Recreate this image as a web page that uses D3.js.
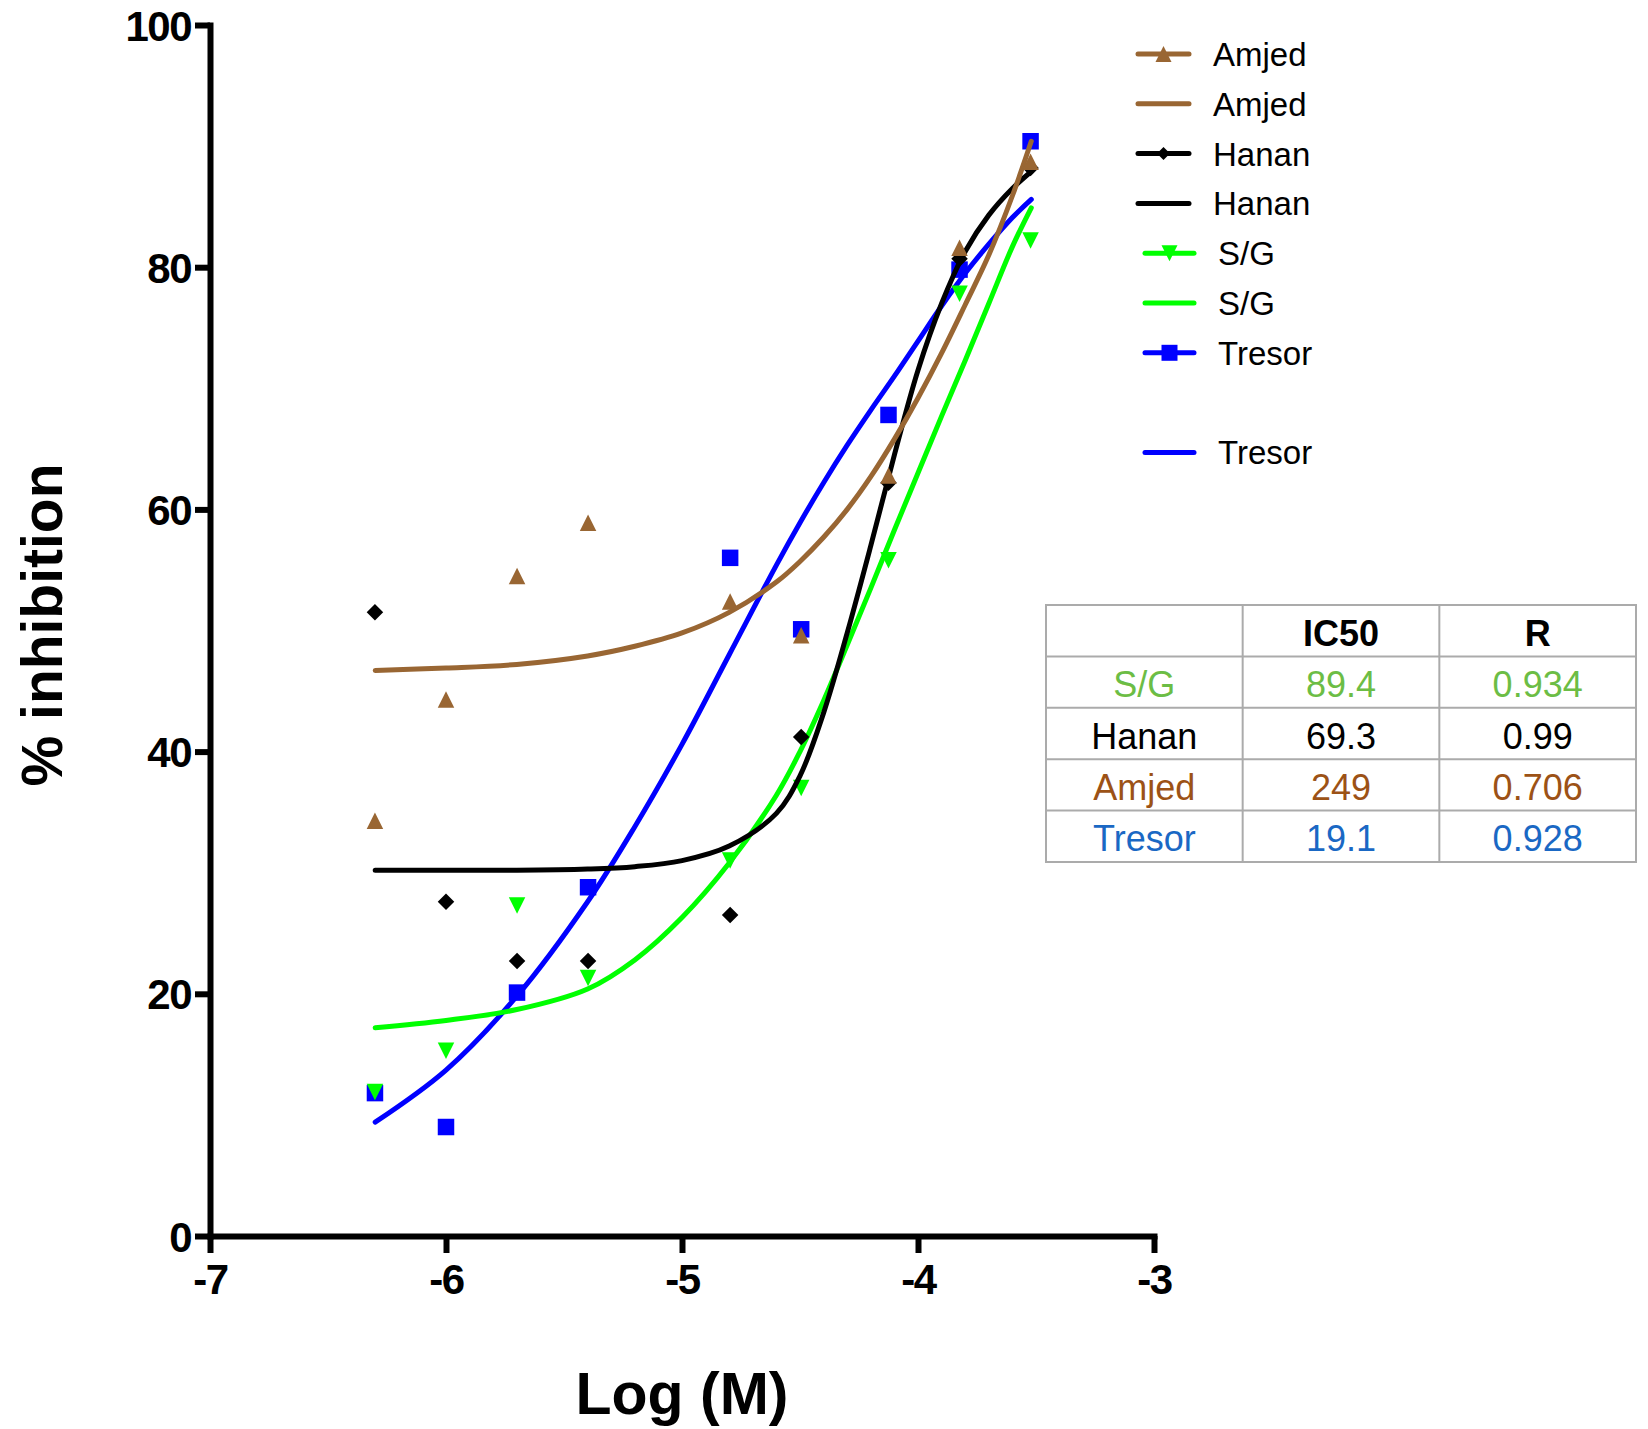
<!DOCTYPE html>
<html><head><meta charset="utf-8">
<script src="https://cdn.jsdelivr.net/npm/d3@7"></script>
<style>
html,body{margin:0;padding:0;background:#fff;}
svg{display:block;}
</style></head>
<body>
<svg id="chart" width="1648" height="1429"></svg>
<script>
// ---------------- data ----------------
const xTicks = [-7, -6, -5, -4, -3];
const yTicks = [0, 20, 40, 60, 80, 100];

const logConc   = [-6.301, -6.000, -5.699, -5.398, -4.796, -4.495, -4.125, -3.824, -3.523];
const amjedPts  = [34.3, 44.3, 54.5, 58.9, 52.4, 49.6, 62.8, 81.6, 88.7];
const hananPts  = [51.5, 27.6, 22.7, 22.7, 26.5, 41.2, 62.2, 80.7, 88.2];
const sgPts     = [11.9, 15.3, 27.3, 21.3, 31.0, 37.0, 55.8, 77.8, 82.2];
const tresorPts = [11.8, 9.0, 20.1, 28.8, 56.0, 50.1, 67.8, 79.8, 90.4];

// fitted curves
const curveX    = [-6.3, -6.0, -5.7, -5.4, -5.2, -5.0, -4.8, -4.6, -4.5, -4.4, -4.3, -4.2, -4.1, -4.0, -3.9, -3.8, -3.7, -3.6, -3.52];
const amjedFit  = [46.7, 46.9, 47.2, 47.9, 48.7, 49.8, 51.5, 54.0, 55.7, 57.7, 60.0, 62.7, 65.8, 69.2, 72.9, 76.9, 81.0, 85.9, 90.4];
const hananFit  = [30.2, 30.2, 30.2, 30.3, 30.5, 31.0, 32.2, 34.9, 38.0, 43.2, 49.8, 57.0, 64.5, 71.5, 77.0, 81.3, 84.3, 86.5, 87.9];
const sgFit     = [17.2, 17.8, 18.7, 20.4, 22.8, 26.3, 30.8, 36.4, 40.0, 44.2, 48.8, 53.5, 58.3, 63.0, 67.7, 72.3, 77.0, 81.7, 84.9];
const tresorFit = [9.4, 13.7, 19.8, 27.6, 33.8, 40.6, 48.0, 55.4, 58.9, 62.2, 65.3, 68.2, 71.0, 73.9, 76.8, 79.5, 81.9, 84.1, 85.6];

const legendLabels    = ["Amjed", "Amjed", "Hanan", "Hanan", "S/G", "S/G", "Tresor", "Tresor"];
const legendHasMarker = [true, false, true, false, true, false, true, false];

const tableHeader = ["", "IC50", "R"];
const tableNames  = ["S/G", "Hanan", "Amjed", "Tresor"];
const tableIC50   = ["89.4", "69.3", "249", "19.1"];
const tableR      = ["0.934", "0.99", "0.706", "0.928"];

// ---------------- styles ----------------
const seriesStyle = {
  "Amjed":  {color: "#996633", marker: "triUp",   pts: amjedPts,  fit: amjedFit},
  "Hanan":  {color: "#000000", marker: "diamond", pts: hananPts,  fit: hananFit},
  "S/G":    {color: "#00ff00", marker: "triDown", pts: sgPts,     fit: sgFit},
  "Tresor": {color: "#0000ff", marker: "square",  pts: tresorPts, fit: tresorFit}
};
const drawOrder = ["Tresor", "S/G", "Hanan", "Amjed"];
const tableColors = {"S/G": "#6cbd45", "Hanan": "#000000", "Amjed": "#9c5216", "Tresor": "#1a68c4"};

function markerPath(type, s) {
  const h = s / 2;
  switch (type) {
    case "square":  return `M${-h},${-h}h${s}v${s}h${-s}Z`;
    case "triUp":   return `M0,${-h}L${h},${h}L${-h},${h}Z`;
    case "triDown": return `M0,${h}L${h},${-h}L${-h},${-h}Z`;
    case "diamond": return `M0,${-h}L${h},0L0,${h}L${-h},0Z`;
  }
}

const svg = d3.select("#chart");

const x = d3.scaleLinear().domain([-7, -3]).range([210, 1154]);
const y = d3.scaleLinear().domain([0, 100]).range([1236, 25]);

// ---------------- axes ----------------
const yAxis = svg.append("g").attr("transform", `translate(${x(-7)},0)`)
  .call(d3.axisLeft(y).tickValues(yTicks).tickSize(15).tickSizeOuter(0).tickPadding(4).tickFormat(d => String(d)));
const xAxis = svg.append("g").attr("transform", `translate(0,${y(0)})`)
  .call(d3.axisBottom(x).tickValues(xTicks).tickSize(17).tickSizeOuter(0).tickPadding(10).tickFormat(d => String(d)));

[yAxis, xAxis].forEach(g => {
  g.select(".domain").attr("stroke", "#000").attr("stroke-width", 6).attr("stroke-linecap", "square");
  g.selectAll(".tick line").attr("stroke", "#000").attr("stroke-width", 6);
  g.selectAll(".tick text").attr("fill", "#000")
    .style("font-family", "'Liberation Sans', Arial, Helvetica, sans-serif")
    .style("font-weight", "bold").style("font-size", "42px").style("letter-spacing", "-1.5px");
});
yAxis.selectAll(".tick text").attr("dy", "0.36em");
xAxis.selectAll(".tick text").attr("dy", "0.74em");

// axis titles
svg.append("text")
  .attr("transform", `translate(62,625) rotate(-90)`)
  .attr("text-anchor", "middle")
  .style("font-family", "'Liberation Sans', Arial, Helvetica, sans-serif")
  .style("font-weight", "bold").style("font-size", "57px")
  .text("% inhibition");

svg.append("text")
  .attr("x", (x(-7) + x(-3)) / 2).attr("y", 1414)
  .attr("text-anchor", "middle")
  .style("font-family", "'Liberation Sans', Arial, Helvetica, sans-serif")
  .style("font-weight", "bold").style("font-size", "59px")
  .text("Log (M)");

// ---------------- series ----------------
const line = d3.line().x(d => x(d[0])).y(d => y(d[1])).curve(d3.curveCatmullRom.alpha(0.5));

drawOrder.forEach(name => {
  const st = seriesStyle[name];
  const g = svg.append("g");
  g.append("path")
    .datum(curveX.map((cx, i) => [cx, st.fit[i]]))
    .attr("d", line)
    .attr("fill", "none").attr("stroke", st.color).attr("stroke-width", 5)
    .attr("stroke-linecap", "round").attr("stroke-linejoin", "round");
  g.selectAll("path.pt")
    .data(logConc.map((lx, i) => [lx, st.pts[i]]))
    .join("path").attr("class", "pt")
    .attr("transform", d => `translate(${x(d[0])},${y(d[1])})`)
    .attr("d", markerPath(st.marker, 16.5))
    .attr("fill", st.color);
});

// ---------------- legend ----------------
const legendRowIdx = [0, 1, 2, 3, 4, 5, 6, 8];
const legendG = svg.append("g");
legendLabels.forEach((lab, i) => {
  const st = seriesStyle[lab];
  const ry = 54 + legendRowIdx[i] * 49.8;
  const shifted = i >= 4;
  const x0 = shifted ? 1145 : 1138;
  const x1 = shifted ? 1194 : 1189;
  const tx = shifted ? 1218 : 1213;
  legendG.append("line")
    .attr("x1", x0).attr("x2", x1).attr("y1", ry).attr("y2", ry)
    .attr("stroke", st.color).attr("stroke-width", 5).attr("stroke-linecap", "round");
  if (legendHasMarker[i]) {
    const sz = st.marker === "diamond" ? 13 : 16;
    legendG.append("path")
      .attr("transform", `translate(${(x0 + x1) / 2},${ry})`)
      .attr("d", markerPath(st.marker, sz))
      .attr("fill", st.color);
  }
  legendG.append("text")
    .attr("x", tx).attr("y", ry + 12)
    .style("font-family", "'Liberation Sans', Arial, Helvetica, sans-serif")
    .style("font-size", "33px").attr("fill", "#000")
    .text(lab);
});

// ---------------- table ----------------
const tX0 = 1046, tX1 = 1636, tY0 = 605, tY1 = 862;
const nCols = 3, nRows = tableNames.length + 1;
const colW = (tX1 - tX0) / nCols, rowH = (tY1 - tY0) / nRows;
const tG = svg.append("g");
tG.append("rect").attr("x", tX0).attr("y", tY0).attr("width", tX1 - tX0).attr("height", tY1 - tY0)
  .attr("fill", "#fff").attr("stroke", "#ababab").attr("stroke-width", 2);
for (let c = 1; c < nCols; c++) {
  tG.append("line").attr("x1", tX0 + c * colW).attr("x2", tX0 + c * colW).attr("y1", tY0).attr("y2", tY1)
    .attr("stroke", "#ababab").attr("stroke-width", 2);
}
for (let r = 1; r < nRows; r++) {
  tG.append("line").attr("x1", tX0).attr("x2", tX1).attr("y1", tY0 + r * rowH).attr("y2", tY0 + r * rowH)
    .attr("stroke", "#ababab").attr("stroke-width", 2);
}
const cellText = (c, r, txt, color, bold) => {
  tG.append("text")
    .attr("x", tX0 + (c + 0.5) * colW)
    .attr("y", tY0 + (r + 0.5) * rowH + 15)
    .attr("text-anchor", "middle")
    .style("font-family", "'Liberation Sans', Arial, Helvetica, sans-serif")
    .style("font-size", "36px")
    .style("font-weight", bold ? "bold" : "normal")
    .attr("fill", color)
    .text(txt);
};
tableHeader.forEach((h, c) => { if (h) cellText(c, 0, h, "#000", true); });
tableNames.forEach((n, i) => {
  const col = tableColors[n];
  cellText(0, i + 1, n, col, false);
  cellText(1, i + 1, tableIC50[i], col, false);
  cellText(2, i + 1, tableR[i], col, false);
});
</script>
</body></html>
